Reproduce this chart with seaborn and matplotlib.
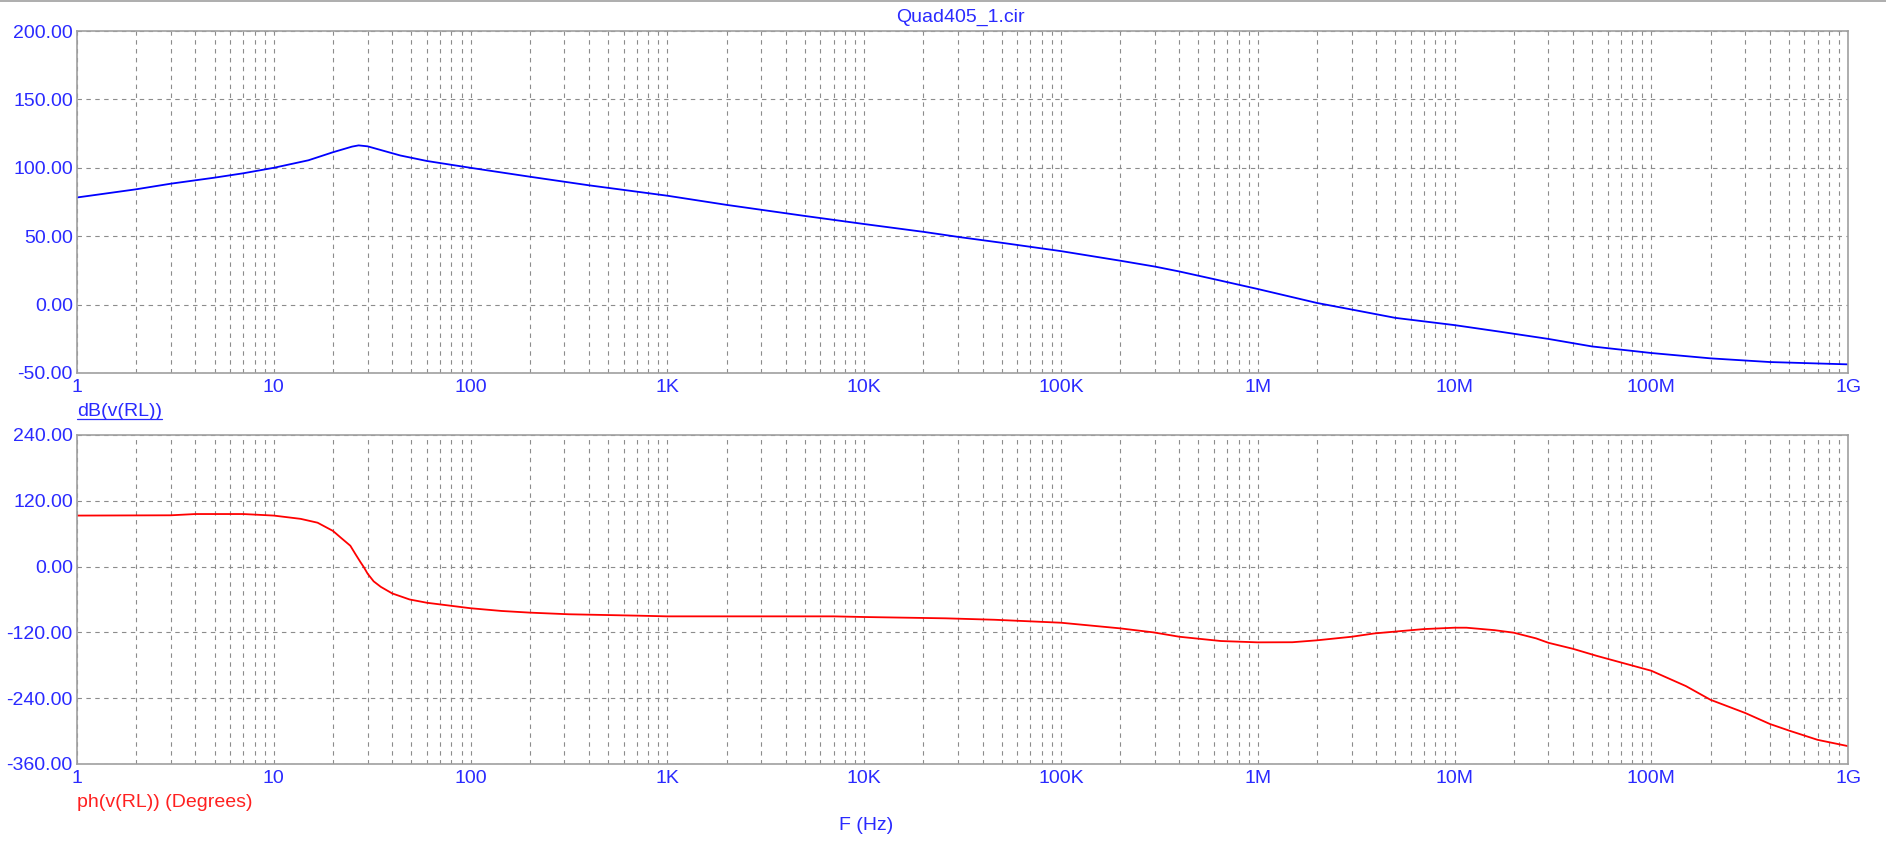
import numpy as np
import pandas as pd
import matplotlib
matplotlib.use("Agg")
import matplotlib.pyplot as plt
import matplotlib.ticker as mticker
from matplotlib.lines import Line2D
import seaborn as sns

# dB(v(RL))
freq_db = [1, 2, 3, 5, 7, 10, 15, 20, 25, 27, 30, 35, 44, 60, 100, 200, 400,
           1e3, 2e3, 5e3, 1e4, 2e4, 3e4, 5e4, 1e5, 2e5, 3e5, 4e5, 6e5, 1e6,
           2e6, 3e6, 5e6, 1e7, 1.7e7, 3e7, 5e7, 1e8, 2e8, 4e8, 1e9]
gain_db = [78.3, 84.3, 88.4, 92.8, 96.0, 100.0, 105.5, 111.4, 115.5, 116.4,
           115.7, 113.0, 109.0, 105.0, 100.0, 93.5, 87.2, 79.6, 72.9, 64.8,
           58.9, 53.2, 49.5, 45.2, 39.1, 32.1, 27.8, 24.2, 18.6, 11.4, 1.2,
           -3.6, -9.7, -15.0, -19.8, -25.1, -30.6, -35.4, -39.3, -42.0, -43.7]

# ph(v(RL))
freq_ph = [1, 3, 4, 7, 10, 13.7, 16.7, 20, 21.9, 24.5, 26, 27.6, 28.7, 30,
           32.2, 35, 40, 49, 60, 100, 144, 200, 316, 700, 1e3, 7e3, 1e4,
           2.6e4, 4.6e4, 1e5, 2e5, 2.95e5, 4e5, 6.5e5, 1e6, 1.5e6, 2e6, 3e6,
           3.9e6, 5.6e6, 7e6, 1e7, 1.15e7, 1.6e7, 2e7, 2.6e7, 3e7, 4e7,
           5.3e7, 1e8, 1.5e8, 2e8, 3e8, 4e8, 5e8, 7e8, 1e9]
phase_deg = [93, 93.5, 95.8, 95.8, 93, 87, 80, 65, 52.8, 38, 22.8, 8, -1.2,
             -13, -27, -37, -49, -60, -66, -76, -81, -84, -87, -89.5, -90.8,
             -90.8, -92, -94.4, -97, -102.4, -112.7, -120, -128, -135.8,
             -138.2, -138, -134.5, -128, -122, -117, -114, -111.5, -111.5,
             -116, -120.6, -131, -139, -150, -163, -190, -218, -243, -267,
             -287, -299, -316, -327.5]

freq_ticks = [1, 10, 100, 1e3, 1e4, 1e5, 1e6, 1e7, 1e8, 1e9]
freq_labels = ["1", "10", "100", "1K", "10K", "100K", "1M", "10M", "100M", "1G"]
db_ticks = [-50, 0, 50, 100, 150, 200]
ph_ticks = [-360, -240, -120, 0, 120, 240]

BLUE = "#2a2aff"
GRID = "#8c8c8c"
SPINE = "#a0a0a0"
FS = 14

sns.set_theme(style="white")
plt.rcParams["font.family"] = ["Liberation Sans", "DejaVu Sans"]

fig = plt.figure(figsize=(18.86, 8.41), dpi=100)
ax1 = fig.add_axes([0.0408, 0.5565, 0.9391, 0.4066])
ax2 = fig.add_axes([0.0408, 0.0916, 0.9391, 0.3912])

df_db = pd.DataFrame({"F": freq_db, "dB": gain_db})
df_ph = pd.DataFrame({"F": freq_ph, "ph": phase_deg})

sns.lineplot(data=df_db, x="F", y="dB", ax=ax1, color="#0000ff", lw=1.3)
sns.lineplot(data=df_ph, x="F", y="ph", ax=ax2, color="#ff0000", lw=1.3)

for ax, yt in ((ax1, db_ticks), (ax2, ph_ticks)):
    ax.set_xscale("log")
    ax.set_xlim(1, 1e9)
    ax.set_ylim(yt[0], yt[-1])
    ax.set_xlabel("")
    ax.set_ylabel("")
    ax.xaxis.set_major_locator(mticker.FixedLocator(freq_ticks))
    ax.xaxis.set_major_formatter(mticker.FixedFormatter(freq_labels))
    ax.xaxis.set_minor_locator(mticker.LogLocator(base=10, subs=np.arange(2, 10), numticks=100))
    ax.xaxis.set_minor_formatter(mticker.NullFormatter())
    ax.set_yticks(yt)
    ax.yaxis.set_major_formatter(mticker.FormatStrFormatter("%.2f"))
    ax.grid(True, which="both", axis="x", color=GRID, lw=0.8, dashes=(4, 4))
    ax.grid(True, which="major", axis="y", color=GRID, lw=0.8, dashes=(4, 4))
    ax.tick_params(axis="both", which="both", length=0, labelsize=FS, labelcolor=BLUE)
    ax.tick_params(axis="x", pad=4)
    ax.tick_params(axis="y", pad=3)
    for sp in ax.spines.values():
        sp.set_color(SPINE)
        sp.set_linewidth(1.2)

fig.text(0.5095, 0.979, "Quad405_1.cir", ha="center", va="center", fontsize=FS, color=BLUE)
lbl = fig.text(0.0408, 0.511, "dB(v(RL))", ha="left", va="center", fontsize=FS, color=BLUE)
fig.text(0.0408, 0.046, "ph(v(RL)) (Degrees)", ha="left", va="center", fontsize=FS, color="#ff2020")
fig.text(0.459, 0.019, "F (Hz)", ha="center", va="center", fontsize=FS, color=BLUE)

# underline the dB trace label and the thin frame line at the top
fig.canvas.draw()
bb = lbl.get_window_extent().transformed(fig.transFigure.inverted())
fig.add_artist(Line2D([bb.x0, bb.x1], [bb.y0 + 0.001, bb.y0 + 0.001],
                      transform=fig.transFigure, color=BLUE, lw=0.9))
fig.add_artist(Line2D([0, 1], [0.999, 0.999], transform=fig.transFigure, color=SPINE, lw=1.2))

fig.savefig("out.png", dpi=100)
